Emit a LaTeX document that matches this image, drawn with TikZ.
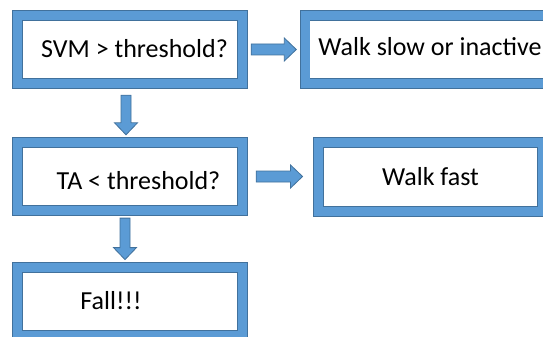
\documentclass[tikz,border=0pt]{standalone}
\usepackage{fontspec}
\setmainfont{Carlito}
\usetikzlibrary{calc}
\definecolor{bblue}{RGB}{91,155,213}
\definecolor{bdark}{RGB}{65,113,156}
\newcommand{\harrow}[2]{%
  \draw[blockarr] let \p1=#1, \p2=#2 in
    (\x1,\y1+5.5pt) -- (\x2-12pt,\y1+5.5pt) -- (\x2-12pt,\y1+11.5pt) -- (\x2,\y1)
    -- (\x2-12pt,\y1-11.5pt) -- (\x2-12pt,\y1-5.5pt) -- (\x1,\y1-5.5pt) -- cycle;}
\newcommand{\varrow}[2]{%
  \draw[blockarr] let \p1=#1, \p2=#2 in
    (\x1+5pt,\y1) -- (\x1+5pt,\y2+12pt) -- (\x1+11.5pt,\y2+12pt) -- (\x1,\y2)
    -- (\x1-11.5pt,\y2+12pt) -- (\x1-5pt,\y2+12pt) -- (\x1-5pt,\y1) -- cycle;}
\begin{document}
\begin{tikzpicture}[x=1pt,y=-1pt,
  box/.style={draw=bdark, double=bblue, double distance=9pt, line width=0.8pt,
    fill=white, minimum width=225pt, minimum height=68pt, inner sep=0pt},
  txt/.style={font=\fontsize{26}{30}\selectfont, inner sep=0pt,
    text height=16.7pt, text depth=0pt, anchor=center},
  blockarr/.style={draw=bdark, fill=bblue, line width=0.8pt, line join=miter}]
\useasboundingbox (0,0) rectangle (543,337);
\node[box] (b1) at (130,49.5) {};
\node[box, minimum width=250pt] (b2) at (430,49.5) {};
\node[box] (b3) at (130,176.5) {};
\node[box, minimum width=224.5pt, minimum height=69pt] (b4) at (430.5,177) {};
\node[box] (b5) at (130,301.3) {};
\node[txt] (t1) at ($(b1.center)+(4.5,0)$) {SVM > threshold?};
\node[txt] (t2) at ($(b2.center)+(0,-2)$) {Walk slow or inactive};
\node[txt] (t3) at ($(b3.center)+(8.5,5)$) {TA < threshold?};
\node[txt] (t4) at ($(b4.center)+(0,0)$) {Walk fast};
\node[txt] (t5) at ($(b5.center)+(-19,0)$) {Fall!!!};
\harrow{($(b1.east)+(8.3,0)$)}{($(b2.west)+(-8.3,0)$)}
\harrow{($(b3.east)+(13.3,0)$)}{($(b4.west)+(-15.3,0)$)}
\varrow{($(b1.south)+(-4,11.3)$)}{($(b3.north)+(-4,-7.3)$)}
\varrow{($(b3.south)+(-5,7.2)$)}{($(b5.north)+(-5,-7.3)$)}
\end{tikzpicture}
\end{document}
